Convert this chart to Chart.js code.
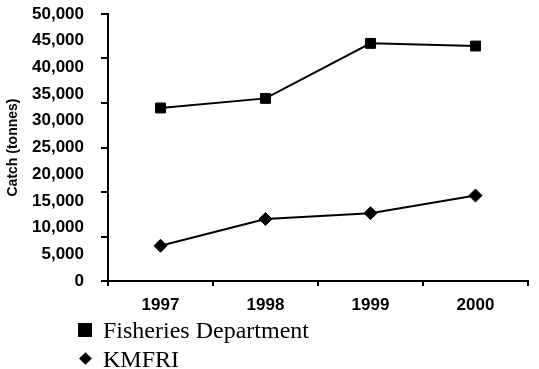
<!DOCTYPE html>
<html>
<head>
<meta charset="utf-8">
<script src="https://cdn.jsdelivr.net/npm/chart.js@4/dist/chart.umd.min.js"></script>
<style>
  html, body { margin: 0; padding: 0; background: #fff; }
  #wrap { position: relative; width: 539px; height: 369px; }
  #legend { position: absolute; left: 0; top: 0; font-family: "Liberation Serif", serif; font-size: 24px; color: #000; }
  .row { position: absolute; left: 103px; line-height: 29px; white-space: nowrap; }
  .mark { position: absolute; background: #000; }
</style>
</head>
<body>
<div id="wrap">
  <canvas id="chart" width="539" height="369"></canvas>
  <div id="legend"></div>
</div>
<script>
"use strict";
const years = ["1997", "1998", "1999", "2000"];
const fisheriesDept = [32400, 34200, 44500, 44000];
const kmfri = [6600, 11600, 12700, 16000];
const seriesNames = ["Fisheries Department", "KMFRI"];
const pointStyles = ["rect", "rectRot"];

const axisFont = { family: "'Liberation Sans', Arial, sans-serif", weight: "bold" };

const chart = new Chart(document.getElementById("chart").getContext("2d"), {
  type: "line",
  data: {
    labels: years,
    datasets: [fisheriesDept, kmfri].map((values, i) => ({
      label: seriesNames[i],
      data: values,
      borderColor: "#000",
      backgroundColor: "#000",
      borderWidth: 2,
      pointStyle: pointStyles[i],
      pointRadius: i === 0 ? 7 : 6.5,
      pointBorderWidth: 1,
      tension: 0,
      yAxisID: "y",
    })),
  },
  options: {
    responsive: false,
    animation: false,
    layout: { padding: { top: 14, right: 11, bottom: 58, left: 0 } },
    plugins: { legend: { display: false }, tooltip: { enabled: false } },
    scales: {
      x: {
        offset: true,
        grid: { offset: true, drawOnChartArea: false, drawTicks: true, tickLength: 5, color: "#000", lineWidth: 2 },
        border: { display: true, color: "#000", width: 2 },
        ticks: { color: "#000", font: { ...axisFont, size: 17 }, padding: 9 },
        afterFit: (s) => { s.height = 30; },
      },
      y: {
        position: "left",
        weight: 1,
        min: 0,
        max: 50000,
        grid: { display: false },
        border: { display: false },
        ticks: {
          stepSize: 5000,
          color: "#000",
          font: { ...axisFont, size: 17 },
          padding: 9,
          callback: (v) => v.toLocaleString("en-US"),
        },
        title: {
          display: true,
          text: "Catch (tonnes)",
          color: "#000",
          font: { ...axisFont, size: 14 },
          padding: { top: 5, bottom: 0 },
        },
        afterFit: (s) => {
          s.width = 101;
          s.paddingTop = 0;
          s.paddingBottom = 0;
        },
      },
      yMarks: {
        position: "left",
        weight: 0,
        min: 0,
        max: 60000,
        grid: { drawOnChartArea: false, drawTicks: true, tickLength: 7, color: "#000", lineWidth: 2 },
        border: { display: true, color: "#000", width: 2 },
        ticks: { display: false, stepSize: 10000 },
      },
    },
  },
});

// legend below the plot, stacked at the left
const legend = document.getElementById("legend");
chart.data.datasets.forEach((ds, i) => {
  const top = 316 + i * 29;
  const row = document.createElement("div");
  row.className = "row";
  row.style.top = top + "px";
  row.textContent = ds.label;
  legend.appendChild(row);
  const mark = document.createElement("div");
  mark.className = "mark";
  if (ds.pointStyle === "rect") {
    Object.assign(mark.style, { left: "78px", top: top + 7 + "px", width: "14px", height: "14px" });
  } else {
    Object.assign(mark.style, { left: "81px", top: top + 9 + "px", width: "9px", height: "9px", transform: "rotate(45deg)" });
  }
  legend.appendChild(mark);
});
</script>
</body>
</html>
